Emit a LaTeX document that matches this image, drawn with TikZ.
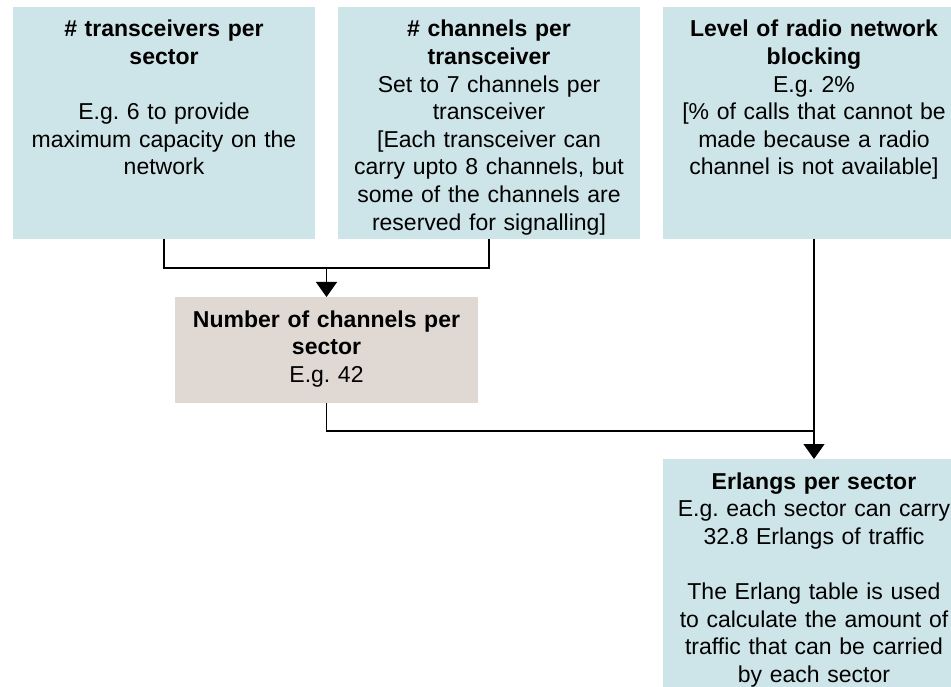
\documentclass[tikz,border=0pt]{standalone}
\usepackage{fontspec}
\setmainfont{Liberation Sans}
\usetikzlibrary{arrows.meta}
\frenchspacing

\definecolor{paleblue}{RGB}{205,228,232}
\definecolor{paletan}{RGB}{224,217,211}

\tikzset{
  panel/.style={fill=paleblue, draw=none, minimum width=302pt, inner sep=0pt, anchor=north},
  body/.style={text width=296pt, align=center, inner sep=0pt, anchor=base,
    font=\fontsize{23}{27.6}\selectfont},
  link/.style={line width=1.3pt},
  flow/.style={link, -{Triangle[width=21pt,length=15pt]}}
}

\begin{document}
\begin{tikzpicture}[x=1pt, y=-1pt]
\def\xl{164};
\def\xc{489};
\def\xr{814};
\def\xm{326.5};

\def\ytop{7};
\def\ymid{297};
\def\ylow{459};
\def\yja{268};
\def\yjb{431};

\clip (0,0) rectangle (951,687);

% boxes
\node[panel, minimum height=232pt] (t) at (\xl, \ytop) {};
\node[panel, minimum height=232pt] (c) at (\xc, \ytop) {};
\node[panel, minimum height=232pt] (l) at (\xr, \ytop) {};
\node[panel, fill=paletan, minimum width=303pt, minimum height=105.5pt] (n) at (\xm, \ymid) {};
\node[panel, minimum height=240pt] (e) at (\xr, \ylow) {};

% texts
\node[body] (tt) at ([yshift=-30pt]t.north) {\textbf{\# transceivers per}\\\textbf{sector}\\[27.6pt]E.g. 6 to provide\\maximum capacity on the\\network};
\node[body] (ct) at ([yshift=-30pt]c.north) {\textbf{\# channels per}\\\textbf{transceiver}\\Set to 7 channels per\\transceiver\\{[}Each transceiver can\\carry upto 8 channels, but\\some of the channels are\\reserved for signalling]};
\node[body] (lt) at ([yshift=-30pt]l.north) {\textbf{Level of radio network}\\\textbf{blocking}\\E.g. 2\%\\{[}\% of calls that cannot be\\made because a radio\\channel is not available]};
\node[body] (nt) at ([yshift=-30pt]n.north) {\textbf{Number of channels per}\\\textbf{sector}\\E.g. 42};
\node[body] (et) at ([yshift=-30pt]e.north) {\textbf{Erlangs per sector}\\E.g. each sector can carry\\32.8 Erlangs of traffic\\[27.6pt]The Erlang table is used\\to calculate the amount of\\traffic that can be carried\\by each sector};

\coordinate (ja) at (\xm, \yja);
\coordinate (jb) at (\xr, \yjb);

\draw[link] (t.south) |- (ja) -| (c.south);
\draw[flow] (ja) -- (n.north);
\draw[link] (n.south) |- (jb);
\draw[flow] (l.south) -- (e.north);

\end{tikzpicture}
\end{document}
